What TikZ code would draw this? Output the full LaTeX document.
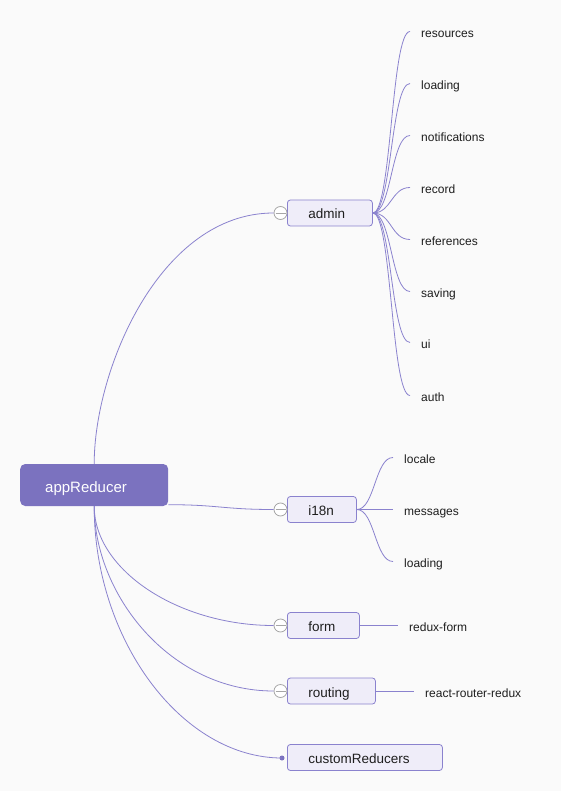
\documentclass[tikz,border=0pt]{standalone}
\usepackage{fontspec}
\setmainfont{Liberation Sans}
\definecolor{mmbg}{HTML}{FAFAFA}
\definecolor{mmpurple}{HTML}{7B72BF}
\definecolor{mmline}{HTML}{8A82CE}
\definecolor{mmbox}{HTML}{EFEDF9}
\definecolor{mmfold}{HTML}{A6A6A6}
\definecolor{mmtext}{HTML}{1E1E1E}

\begin{document}
\begin{tikzpicture}[x=1pt,y=-1pt,
  link/.style={draw=mmline,line width=0.8pt},
  root node/.style={anchor=west,fill=mmpurple,rounded corners=5pt,inner xsep=25pt,inner ysep=0pt,minimum height=42pt,text height=15.6pt,text depth=0pt,align=left,text=white,font=\fontsize{15}{17}\selectfont},
  child node/.style={anchor=west,draw=mmline,fill=mmbox,rounded corners=3pt,line width=0.8pt,inner xsep=21pt,inner ysep=0pt,minimum height=26pt,text height=12pt,text depth=0pt,align=left,text=mmtext,font=\fontsize{13.5}{15}\selectfont},
  leaf node/.style={anchor=west,inner xsep=11pt,inner ysep=0pt,text height=12pt,text depth=0pt,text=mmtext,font=\fontsize{12}{14}\selectfont},
  fold/.style={circle,draw=mmfold,fill=white,line width=0.8pt,minimum size=13pt,inner sep=0pt,
    path picture={\draw[mmfold,line width=0.8pt] ([xshift=1.5pt]path picture bounding box.west) -- ([xshift=-1.5pt]path picture bounding box.east);}}]
	\fill[mmbg] (0,0) rectangle (561,791);
	\draw
		(20,485)    node(root) [root node, text width=98pt] {appReducer}
		(287,213)   node(admin) [child node, text width=43pt] {admin}
		(287,509.5) node(i18n) [child node, text width=27pt] {i18n}
		(287,625.5) node(form) [child node, text width=30pt] {form}
		(287,691)   node(routing) [child node, text width=46pt] {routing}
		(287,757.5) node(custom) [child node, text width=113pt] {customReducers};

	\draw
		(280.5,213)   node(fadmin) [fold] {}
		(280.5,509.5) node(fi18n) [fold] {}
		(280.5,625.5) node(fform) [fold] {}
		(280.5,691)   node(frouting) [fold] {}
		(282,758)     node(dcustom) [circle, fill=mmpurple, minimum size=5pt, inner sep=0pt] {};

	\draw
		(410,31.5)  node(resources) [leaf node] {resources}
		(410,83.5)  node(loadinga) [leaf node] {loading}
		(410,135.5) node(notifications) [leaf node] {notifications}
		(410,187.5) node(record) [leaf node] {record}
		(410,239.5) node(references) [leaf node] {references}
		(410,291.5) node(saving) [leaf node] {saving}
		(410,342.5) node(ui) [leaf node] {ui}
		(410,395.5) node(auth) [leaf node] {auth}
		(393,457.5) node(locale) [leaf node] {locale}
		(393,509.5) node(messages) [leaf node] {messages}
		(393,561.5) node(loadingb) [leaf node] {loading}
		(398,625.5) node(reduxform) [leaf node] {redux-form}
		(414,691)   node(routerredux) [leaf node] {react-router-redux};

	\draw [link] (root.north) .. controls +(0,-94) and +(-114,0) .. (fadmin.west);
	\draw [link] ([yshift=1.5pt]root.south east) .. controls +(50,0) and +(-50,0) .. (fi18n.west);
	\draw [link] (root.south) .. controls +(0,64) and +(-95,0) .. (fform.west);
	\draw [link] (root.south) .. controls +(0,88) and +(-104,0) .. (frouting.west);
	\draw [link] (root.south) .. controls +(0,134) and +(-100,0) .. (dcustom.center);

	\foreach \leaf in {resources,loadinga,notifications,record,references,saving,ui,auth}
		\draw [link] (admin.east) .. controls +(19,0) and +(-19,0) .. (\leaf.west);
	\foreach \leaf in {locale,loadingb}
		\draw [link] (i18n.east) .. controls +(18,0) and +(-18,0) .. (\leaf.west);
	\draw [link] (i18n.east) -- (messages.west);
	\draw [link] (form.east) -- (reduxform.west);
	\draw [link] (routing.east) -- (routerredux.west);
\end{tikzpicture}
\end{document}
